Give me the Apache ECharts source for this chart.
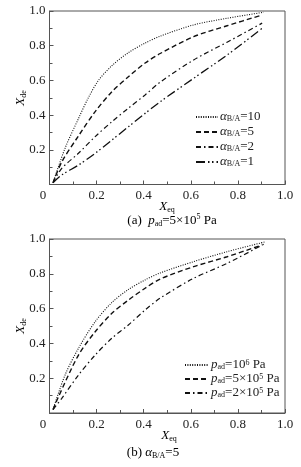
<!DOCTYPE html>
<html><head><meta charset="utf-8">
<script src="https://cdn.jsdelivr.net/npm/echarts@6/dist/echarts.min.js"></script>
<style>html,body{margin:0;padding:0;background:#fff}#c{width:301px;height:467px}</style>
</head><body><div id="c"></div>
<script>
// ---- Data ----
// (a) p_ad = 5x10^5 Pa, different alpha_B/A
const xA10 = [0.015, 0.066, 0.123, 0.165, 0.208, 0.265, 0.335, 0.406, 0.47, 0.612, 0.754, 0.91];
const yA10 = [0.01, 0.209, 0.38, 0.5, 0.6, 0.685, 0.76, 0.815, 0.855, 0.92, 0.958, 0.993];
const xA5 = [0.015, 0.052, 0.123, 0.194, 0.265, 0.335, 0.406, 0.47, 0.612, 0.754, 0.903];
const yA5 = [0.01, 0.13, 0.28, 0.42, 0.535, 0.621, 0.70, 0.755, 0.852, 0.915, 0.977];
const xA2 = [0.015, 0.052, 0.123, 0.194, 0.265, 0.335, 0.406, 0.47, 0.612, 0.754, 0.903];
const yA2 = [0.01, 0.093, 0.18, 0.276, 0.362, 0.44, 0.516, 0.59, 0.718, 0.82, 0.93];
const xA1 = [0.015, 0.052, 0.123, 0.194, 0.265, 0.335, 0.406, 0.47, 0.612, 0.754, 0.903];
const yA1 = [0.01, 0.055, 0.112, 0.18, 0.256, 0.333, 0.41, 0.477, 0.612, 0.746, 0.9];
// (b) alpha_B/A = 5, different p_ad
const xP1 = [0.015, 0.066, 0.123, 0.194, 0.265, 0.335, 0.406, 0.47, 0.612, 0.754, 0.917];
const yP1 = [0.02, 0.218, 0.372, 0.525, 0.635, 0.71, 0.765, 0.805, 0.87, 0.927, 0.984];
const xP2 = [0.015, 0.037, 0.123, 0.194, 0.265, 0.335, 0.406, 0.47, 0.612, 0.754, 0.903];
const yP2 = [0.02, 0.09, 0.333, 0.467, 0.573, 0.649, 0.717, 0.77, 0.841, 0.898, 0.966];
const xP3 = [0.015, 0.052, 0.123, 0.194, 0.265, 0.335, 0.406, 0.47, 0.612, 0.754, 0.917];
const yP3 = [0.02, 0.084, 0.218, 0.333, 0.43, 0.506, 0.592, 0.66, 0.774, 0.86, 0.975];

const alphaValues = ['10', '5', '2', '1'];
const pressureLabels = [['10', '6'], ['5×10', '5'], ['2×10', '5']];
const xTicks = [0, 0.2, 0.4, 0.6, 0.8, 1.0];
const yTicks = [0.2, 0.4, 0.6, 0.8, 1.0];

// ---- Styles ----
const FONT = "'Liberation Serif', 'Times New Roman', serif";
const TXT = '#222';
const AX = '#555';
const dashes = {
  dot: [1, 1.4],
  dash: [5, 3],
  dashdot: [5, 3, 1.5, 3],
  dashdotdot: [9, 3, 1.5, 2.5, 1.5, 3]
};
function makeRich(lh) {
  return {
    n: {fontFamily: FONT, fontSize: 13, color: TXT, lineHeight: lh, verticalAlign: 'bottom'},
    i: {fontFamily: FONT, fontSize: 13, fontStyle: 'italic', color: TXT, lineHeight: lh, verticalAlign: 'bottom'},
    s: {fontFamily: FONT, fontSize: 8, color: TXT, lineHeight: 6, verticalAlign: 'bottom'},
    sup: {fontFamily: FONT, fontSize: 8, color: TXT, lineHeight: lh, verticalAlign: 'top'},
    z: {fontFamily: FONT, fontSize: 13, color: TXT, padding: [0, 13, 0, 0]}
  };
}
const rich = makeRich(15);
const legRich = makeRich(12);

function zip(xs, ys) { return xs.map((x, k) => [x, ys[k]]); }

function xAxisCfg(gi) {
  return {
    gridIndex: gi, type: 'value', min: 0, max: 1, interval: 0.2,
    axisLine: {show: true, lineStyle: {color: AX, width: 1}},
    axisTick: {show: true, inside: true, length: 4, lineStyle: {color: AX}},
    minorTick: {show: true, splitNumber: 2, length: 3, lineStyle: {color: AX}},
    splitLine: {show: false},
    axisLabel: {
      margin: 5, color: TXT, fontFamily: FONT, fontSize: 13, rich: rich,
      showMinLabel: true, showMaxLabel: true, hideOverlap: false,
      formatter: v => Math.abs(v - xTicks[0]) < 1e-9 ? '{z|0}' : v.toFixed(1)
    }
  };
}
function yAxisCfg(gi) {
  return {
    gridIndex: gi, type: 'value', min: 0, max: 1, interval: 0.2,
    axisLine: {show: true, lineStyle: {color: AX, width: 1}},
    axisTick: {show: true, inside: true, length: 4, lineStyle: {color: AX}},
    minorTick: {show: true, splitNumber: 2, length: 3, lineStyle: {color: AX}},
    splitLine: {show: false},
    axisLabel: {
      margin: 4, color: TXT, fontFamily: FONT, fontSize: 13,
      showMaxLabel: true,
      formatter: v => yTicks.some(t => Math.abs(t - v) < 1e-9) ? v.toFixed(1) : ''
    }
  };
}
function line(name, gi, xs, ys, dash, w) {
  return {
    name: name, type: 'line', xAxisIndex: gi, yAxisIndex: gi,
    data: zip(xs, ys), showSymbol: false, symbol: 'none', smooth: 0.3,
    lineStyle: {color: '#111', width: w || 1.2, type: dash},
    itemStyle: {color: '#111'}, emphasis: {disabled: true}, silent: true,
    animation: false
  };
}

const namesA = ['a10', 'a5', 'a2', 'a1'];
const namesP = ['p1', 'p2', 'p3'];
const legendTextA = {};
namesA.forEach((n, k) => { legendTextA[n] = '{i|α}{s|B/A}{n|=' + alphaValues[k] + '}'; });
const legendTextP = {};
namesP.forEach((n, k) => {
  const p = pressureLabels[k];
  legendTextP[n] = '{i|p}{s|ad}{n|=' + p[0] + '}{sup|' + p[1] + '}{n| Pa}';
});

function legendCfg(names, texts, left, top, w, gap) {
  return {
    data: names, orient: 'vertical', left: left, top: top,
    itemWidth: w, itemHeight: 8, itemGap: gap, padding: 0,
    formatter: n => texts[n], textStyle: {rich: legRich, padding: [0, 0, 0, -3]},
    itemStyle: {opacity: 0}, selectedMode: false
  };
}

const chart = echarts.init(document.getElementById('c'), null, {renderer: 'canvas'});
chart.setOption({
  animation: false,
  backgroundColor: '#fff',
  grid: [
    {left: 49.5, top: 11, width: 235.5, height: 173.5, show: true, borderColor: AX, borderWidth: 1, backgroundColor: 'transparent'},
    {left: 49.5, top: 239, width: 235.5, height: 174, show: true, borderColor: AX, borderWidth: 1, backgroundColor: 'transparent'}
  ],
  xAxis: [xAxisCfg(0), xAxisCfg(1)],
  yAxis: [yAxisCfg(0), yAxisCfg(1)],
  legend: [
    legendCfg(namesA, legendTextA, 195, 110, 22, 2),
    legendCfg(namesP, legendTextP, 184, 358, 24, 1)
  ],
  series: [
    line('a10', 0, xA10, yA10, dashes.dot, 1.1),
    line('a5', 0, xA5, yA5, dashes.dash, 1.4),
    line('a2', 0, xA2, yA2, dashes.dashdot, 1.2),
    line('a1', 0, xA1, yA1, dashes.dashdotdot, 1.3),
    line('p1', 1, xP1, yP1, dashes.dot, 1.1),
    line('p2', 1, xP2, yP2, dashes.dash, 1.4),
    line('p3', 1, xP3, yP3, dashes.dashdot, 1.2)
  ],
  graphic: [
    // axis titles
    {type: 'text', x: 20, y: 98, rotation: Math.PI / 2, silent: true,
      style: {text: '{i|X}{s|de}', rich: rich, align: 'center', verticalAlign: 'middle'}},
    {type: 'text', x: 20, y: 326, rotation: Math.PI / 2, silent: true,
      style: {text: '{i|X}{s|de}', rich: rich, align: 'center', verticalAlign: 'middle'}},
    {type: 'text', x: 167, y: 206, silent: true,
      style: {text: '{i|X}{s|eq}', rich: rich, align: 'center', verticalAlign: 'middle'}},
    {type: 'text', x: 169, y: 435, silent: true,
      style: {text: '{i|X}{s|eq}', rich: rich, align: 'center', verticalAlign: 'middle'}},
    // captions
    {type: 'text', x: 172, y: 220, silent: true,
      style: {text: '{n|(a)  }{i|p}{s|ad}{n|=5×10}{sup|5}{n| Pa}', rich: rich, align: 'center', verticalAlign: 'middle'}},
    {type: 'text', x: 153, y: 452, silent: true,
      style: {text: '{n|(b) }{i|α}{s|B/A}{n|=5}', rich: rich, align: 'center', verticalAlign: 'middle'}}
  ]
});
</script></body></html>
